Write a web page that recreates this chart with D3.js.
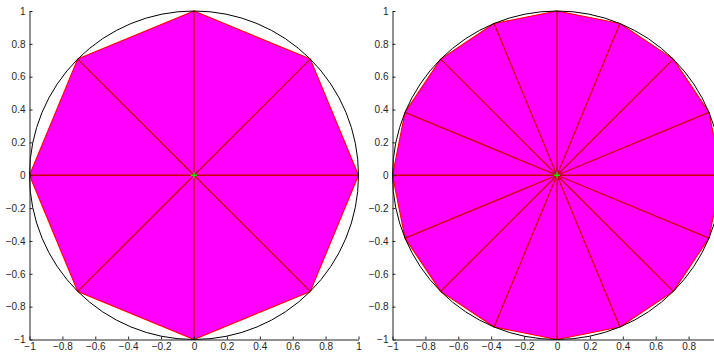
<!DOCTYPE html>
<html>
<head>
<meta charset="utf-8">
<script src="https://cdn.jsdelivr.net/npm/d3@7"></script>
<style>
  html, body { margin: 0; padding: 0; background: #fff; }
  svg { display: block; }
  .tick text { font-family: "Liberation Sans", Arial, Helvetica, sans-serif; font-size: 10px; fill: #262626; }
</style>
</head>
<body>
<svg id="chart" width="714" height="353"></svg>
<script>
// Tick values shared by both axes of both panels
const tickValues = [-1, -0.8, -0.6, -0.4, -0.2, 0, 0.2, 0.4, 0.6, 0.8, 1];

// Octagon vertices (left panel)
const octX = [1, 0.7071, 0, -0.7071, -1, -0.7071, 0, 0.7071];
const octY = [0, 0.7071, 1, 0.7071, 0, -0.7071, -1, -0.7071];

// Hexadecagon vertices (right panel)
const hexX = [1, 0.9239, 0.7071, 0.3827, 0, -0.3827, -0.7071, -0.9239,
              -1, -0.9239, -0.7071, -0.3827, 0, 0.3827, 0.7071, 0.9239];
const hexY = [0, 0.3827, 0.7071, 0.9239, 1, 0.9239, 0.7071, 0.3827,
              0, -0.3827, -0.7071, -0.9239, -1, -0.9239, -0.7071, -0.3827];

// Centre point and circle radius
const centre = [0, 0];
const circleRadius = 1;

const W = 714;
const svg = d3.select("#chart");
const fmt = d => d3.format("")(d).replace("-", "\u2212");

function drawPanel(left, xs, ys) {
  const x = d3.scaleLinear().domain([-1, 1]).range([left, left + 329]);
  const y = d3.scaleLinear().domain([-1, 1]).range([339.5, 11]);
  const g = svg.append("g");

  const pts = xs.map((v, i) => [x(v), y(ys[i])]);

  // filled polygon
  g.append("polygon")
    .attr("points", pts.map(p => p.join(",")).join(" "))
    .attr("fill", "#ff00ff")
    .attr("stroke", "#ff0000")
    .attr("stroke-width", 1.1)
    .attr("stroke-linejoin", "round");

  // spokes from centre to every vertex
  g.selectAll("line.spoke").data(pts).join("line")
    .attr("class", "spoke")
    .attr("x1", x(centre[0])).attr("y1", y(centre[1]))
    .attr("x2", d => d[0]).attr("y2", d => d[1])
    .attr("stroke", "#c80000")
    .attr("stroke-width", 1.3);

  // circumscribing circle
  g.append("ellipse")
    .attr("cx", x(centre[0])).attr("cy", y(centre[1]))
    .attr("rx", x(circleRadius) - x(0))
    .attr("ry", y(0) - y(circleRadius))
    .attr("fill", "none")
    .attr("stroke", "#000")
    .attr("stroke-width", 1);

  // centre marker
  const cx = x(centre[0]), cy = y(centre[1]);
  g.append("path")
    .attr("d", `M${cx - 3},${cy}H${cx + 3}M${cx},${cy - 3}V${cy + 3}`)
    .attr("stroke", "#22dd22")
    .attr("stroke-width", 1.4);

  // axes with inward ticks; x labels that would fall past the page edge are left out
  const ax = g.append("g")
    .attr("transform", `translate(0,${y(-1)})`)
    .call(d3.axisBottom(x).tickValues(tickValues).tickSizeInner(-3).tickSizeOuter(0).tickPadding(3.2)
      .tickFormat(d => x(d) + 4 > W ? "" : fmt(d)));
  const ay = g.append("g")
    .attr("transform", `translate(${x(-1)},0)`)
    .call(d3.axisLeft(y).tickValues(tickValues).tickSizeInner(-3).tickSizeOuter(0).tickPadding(4)
      .tickFormat(fmt));
  [ax, ay].forEach(a => {
    a.select(".domain").attr("stroke", "#222");
    a.selectAll(".tick line").attr("stroke", "#222");
  });
}

drawPanel(29.5, octX, octY);
drawPanel(392.5, hexX, hexY);
</script>
</body>
</html>
